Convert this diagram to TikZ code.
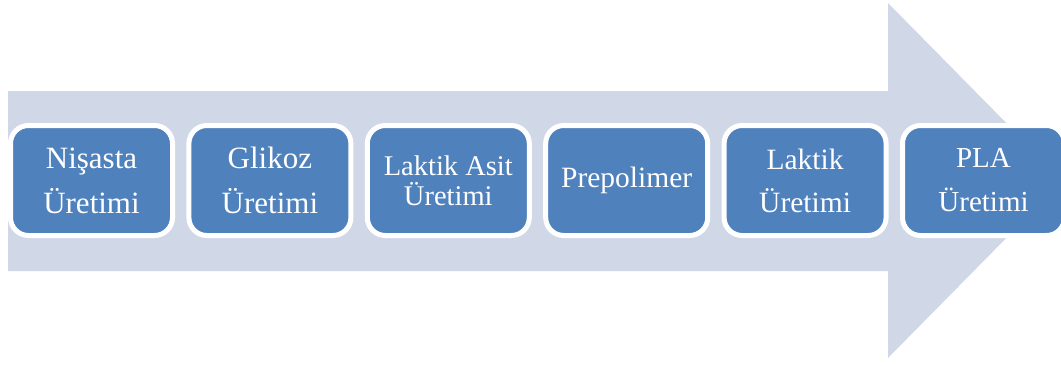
\documentclass[tikz,border=0pt]{standalone}
\usepackage{fontspec}
\setmainfont{Liberation Serif}
\definecolor{arrowfill}{HTML}{D0D8E8}
\definecolor{stageblue}{HTML}{4F81BD}

\begin{document}
\begin{tikzpicture}[x=1pt,y=-1pt,
  stage/.style={rectangle,rounded corners=18pt,draw=white,line width=5pt,
    fill=stageblue,text=white,align=center,inner sep=0pt,
    minimum width=162pt,minimum height=110pt,
    font=\fontsize{31}{45}\selectfont}]
\useasboundingbox (0,0) rectangle (1061,365);
\clip (0,0) rectangle (1061,365);

% Process arrow
\fill[arrowfill] (8,91) -- (888,91) -- (888,3) -- (1063,180.5)
  -- (888,358) -- (888,271) -- (8,271) -- cycle;

% Nodes
\node[stage] (nisasta) at (91.5,180.5) {Nişasta\\Üretimi};
\node[stage] (glikoz) at (269.9,180.5) {Glikoz\\Üretimi};
\node[stage,font=\fontsize{28.5}{29.5}\selectfont] (asit) at (448.3,180.5) {Laktik Asit\\Üretimi};
\node[stage,font=\fontsize{29.5}{43}\selectfont] (prepol) at (626.7,180.5) {Prepolimer};
\node[stage,font=\fontsize{29.5}{43}\selectfont] (laktik) at (805.1,180.5) {Laktik\\Üretimi};
\node[stage,font=\fontsize{29}{44}\selectfont] (pla) at (983.5,180.5) {PLA\\Üretimi};
\end{tikzpicture}
\end{document}
